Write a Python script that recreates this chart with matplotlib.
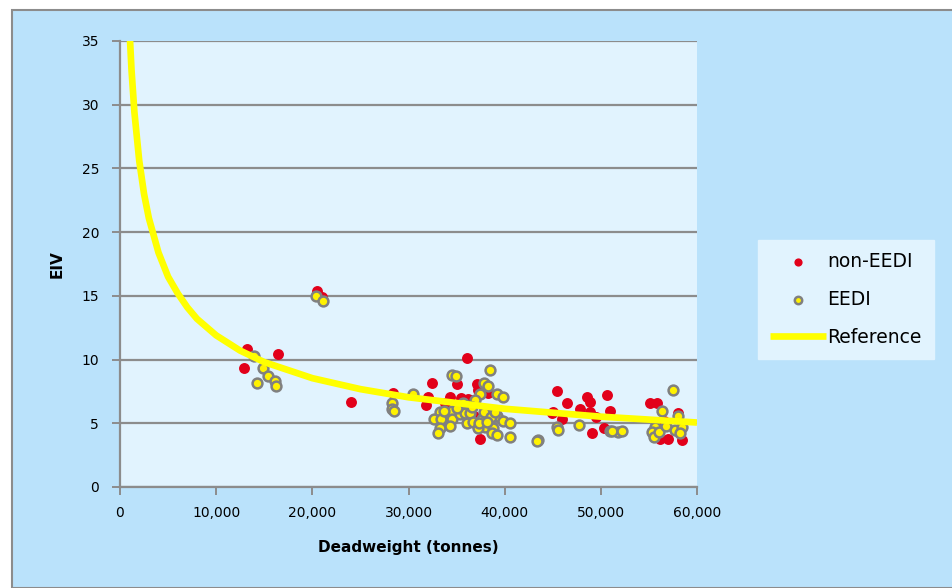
"""
EIV against deadweight, with the reference line
"""
import matplotlib.pyplot as plt
from matplotlib.patches import Rectangle
from matplotlib.ticker import FuncFormatter, MultipleLocator

# non-EEDI ships (red)
non_eedi_dwt = [13200, 16400, 12900, 20500, 21000, 24000,
                36100, 35000, 32400, 28400, 32000, 31800, 34300, 36400, 37100,
                38300, 36200, 37400, 37200, 37200, 35500, 33800, 34800, 36800,
                45400, 45000, 46500, 48600, 48900, 48900, 50600, 51000, 47800,
                44900, 46000, 49100, 50300, 49500,
                55100, 55800, 58000, 56200, 57000, 58400, 56000, 56600, 55800]
non_eedi_eiv = [10.8, 10.4, 9.3, 15.4, 14.9, 6.7,
                10.1, 8.1, 8.2, 7.4, 7.1, 6.4, 7.1, 6.8, 8.1,
                7.4, 6.9, 3.8, 8.0, 7.6, 7.0, 6.6, 5.9, 5.6,
                7.5, 5.9, 6.6, 7.1, 6.7, 5.9, 7.2, 6.0, 6.1,
                5.8, 5.3, 4.2, 4.6, 5.5,
                6.6, 6.6, 5.8, 3.8, 3.8, 3.7, 4.5, 5.2, 5.0]

# EEDI ships (yellow, grey edge)
eedi_dwt = [13900, 14900, 15400, 16100, 16200, 14200,
            20400, 21100,
            34500, 34900, 30500, 28300, 28300, 28500,
            33300, 32600, 33400, 34500, 34500, 33300, 33100, 34300, 35400,
            36100, 35900, 35700,
            38500, 37800, 38300, 39200, 39800, 37400, 36900,
            36400, 37600, 36700, 38000, 38800, 39200, 39800, 40600, 38700,
            39200, 40600, 43500, 37200, 37900, 38600, 35000, 36600, 37300,
            38200, 39000, 33700,
            45400, 47700, 51000, 51800, 43400, 45500,
            57500, 56400, 58000, 51200, 52200, 55600, 55300, 55500, 57700,
            58400, 58200, 56000, 56800]
eedi_eiv = [10.3, 9.3, 8.7, 8.3, 7.9, 8.2,
            15.0, 14.6,
            8.8, 8.7, 7.3, 6.6, 6.1, 6.0,
            5.9, 5.3, 5.3, 6.0, 5.3, 4.6, 4.2, 4.8, 5.7,
            5.0, 5.8, 6.6,
            9.2, 8.2, 7.9, 7.3, 7.1, 7.3, 6.8,
            5.8, 5.3, 5.1, 4.7, 4.6, 5.6, 5.2, 5.0, 4.2,
            4.1, 3.9, 3.7, 4.6, 5.9, 5.5, 6.2, 6.3, 5.0,
            5.1, 5.9, 6.0,
            4.7, 4.9, 4.4, 4.3, 3.6, 4.5,
            7.6, 6.0, 5.6, 4.4, 4.4, 4.7, 4.3, 3.9, 4.5,
            4.7, 4.2, 4.3, 4.8]

# reference line
ref_dwt = [1000, 1200, 1500, 2000, 2500, 3000, 4000, 5000, 6000, 7000,
           8000, 10000, 12500, 15000, 20000, 25000, 30000, 40000, 50000, 60000]
ref_eiv = [35.7, 32.7, 29.4, 25.6, 23.0, 21.1, 18.4, 16.5, 15.2, 14.1,
           13.2, 11.9, 10.7, 9.8, 8.54, 7.68, 7.04, 6.14, 5.52, 5.06]

outer_bg = "#BAE2FB"
inner_bg = "#E1F3FE"
grid_col = "#8C8C8C"

fig = plt.figure(figsize=(9.52, 5.88), dpi=100)
fig.patch.set_facecolor("white")
fig.patches.append(Rectangle((12 / 952, 0), 1, 1 - 10 / 588, transform=fig.transFigure,
                             facecolor=outer_bg, edgecolor=grid_col, linewidth=1.5,
                             zorder=-10))

ax = fig.add_axes([120 / 952, 1 - 487 / 588, 577 / 952, 446 / 588])
ax.set_facecolor(inner_bg)

ax.scatter(non_eedi_dwt, non_eedi_eiv, s=62, color="#E2001A", linewidths=0,
           label="non-EEDI", zorder=3)
ax.scatter(eedi_dwt, eedi_eiv, s=50, color="#FFF200", edgecolors="#808080",
           linewidths=1.8, label="EEDI", zorder=4)
ax.plot(ref_dwt, ref_eiv, color="#FFFF00", linewidth=4.8, label="Reference",
        zorder=5, solid_capstyle="butt")

ax.set_xlim(0, 60000)
ax.set_ylim(0, 35)
ax.xaxis.set_major_locator(MultipleLocator(10000))
ax.yaxis.set_major_locator(MultipleLocator(5))
ax.xaxis.set_major_formatter(FuncFormatter(lambda v, p: f"{int(v):,}"))

ax.grid(axis="y", color=grid_col, linewidth=1.6)
ax.set_axisbelow(True)
for side in ["top", "right"]:
    ax.spines[side].set_visible(False)
for side in ["left", "bottom"]:
    ax.spines[side].set_color(grid_col)
    ax.spines[side].set_linewidth(1.6)
ax.tick_params(axis="both", direction="out", length=6, width=1.4, color=grid_col,
               labelsize=10)
ax.tick_params(axis="y", pad=9)
ax.tick_params(axis="x", pad=8)

ax.set_xlabel("Deadweight (tonnes)", fontsize=11, fontweight="bold", labelpad=14)
ax.set_ylabel("EIV", fontsize=11, fontweight="bold", labelpad=12)

leg = fig.legend(loc="upper left", bbox_to_anchor=(758 / 952, 1 - 240 / 588),
                 frameon=True, fontsize=13.5, handlelength=3.0, labelspacing=1.0,
                 borderpad=0.65, markerscale=0.75, fancybox=False, borderaxespad=0,
                 handletextpad=0.05)
leg.get_frame().set_facecolor(inner_bg)
leg.get_frame().set_edgecolor(inner_bg)
leg.get_frame().set_alpha(1)

fig.savefig("out.png", dpi=100, facecolor=fig.get_facecolor())
